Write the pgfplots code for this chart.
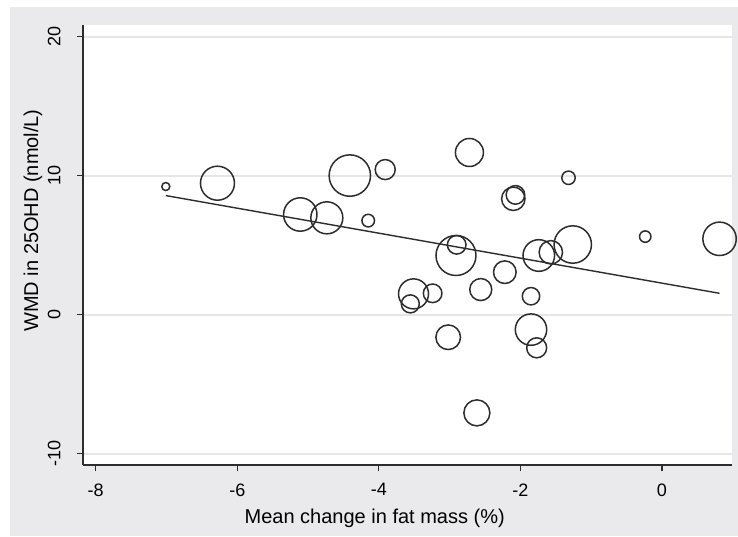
\documentclass[border=0pt]{standalone}
\usepackage{pgfplots}
\pgfplotsset{compat=1.18}
\usepackage{fontspec}
\setmainfont{Liberation Sans}
\definecolor{bggray}{RGB}{234,234,236}
\definecolor{gridgray}{RGB}{230,230,230}
\definecolor{ink}{RGB}{45,45,45}

\pgfplotstableread{
x y r
-7.01 9.23 4
-6.28 9.47 17
-5.11 7.22 16.7
-4.735 6.98 16
-4.41 10.02 20.7
-3.91 10.45 10
-4.15 6.78 6.3
-2.72 11.68 14
-2.10 8.35 11.7
-2.07 8.63 9.3
-1.32 9.86 6.7
-0.236 5.63 5.7
0.814 5.47 16.7
-1.26 5.06 18.7
-1.57 4.50 11.7
-1.74 4.27 15.8
-2.91 4.27 20
-2.90 5.04 9.3
-2.22 3.07 11.3
-2.56 1.82 11
-1.85 1.34 8.7
-3.51 1.51 15
-3.555 0.79 9
-3.24 1.55 9.3
-3.02 -1.61 12.3
-1.85 -1.06 15.7
-1.77 -2.37 10
-2.615 -7.05 13
}\studies

\begin{document}
\begin{tikzpicture}
\path[use as bounding box] (-83pt,-71pt) rectangle (655pt,465pt);
\fill[bggray] (-73pt,-71pt) rectangle (655pt,458pt);
\begin{axis}[
  at={(0pt,0pt)}, anchor=south west,
  scale only axis, width=649pt, height=440pt,
  xmin=-8.18, xmax=0.99, ymin=-10.8, ymax=20.85,
  axis x line*=bottom, axis y line*=left,
  axis line style={-, ink, line width=1.4pt},
  xtick={-8,-6,-4,-2,0}, ytick={-10,0,10,20},
  tick pos=left, tick align=outside, major tick length=6pt,
  tick style={ink, line width=1.2pt},
  ymajorgrids, grid style={gridgray, line width=1.5pt},
  axis background/.style={fill=white},
  /pgf/number format/assume math mode=true,
  ticklabel style={font=\fontsize{18}{20}\selectfont, text=black},
  xticklabel style={yshift=-9pt},
  yticklabel style={xshift=-13pt, rotate=90, anchor=south},
  xlabel={Mean change in fat mass (\%)},
  ylabel={WMD in 25OHD (nmol/L)},
  xlabel style={at={(axis description cs:0.4495,-0.1325)}, anchor=base, font=\fontsize{20}{24}\selectfont},
  ylabel style={at={(axis description cs:-0.0693,0.5557)}, anchor=base, font=\fontsize{20}{24}\selectfont},
  clip=false,
]
\addplot[ink, line width=1.4pt] coordinates {(-7.01,8.58) (0.814,1.55)};
\addplot[scatter, only marks, mark=o,
  scatter/use mapped color={draw=ink, fill=none},
  mark options={line width=1.5pt},
  visualization depends on={\thisrow{r} \as \rad},
  scatter/@pre marker code/.append style={/tikz/mark size=\rad}]
  table[x=x, y=y] {\studies};
\end{axis}
\end{tikzpicture}
\end{document}
